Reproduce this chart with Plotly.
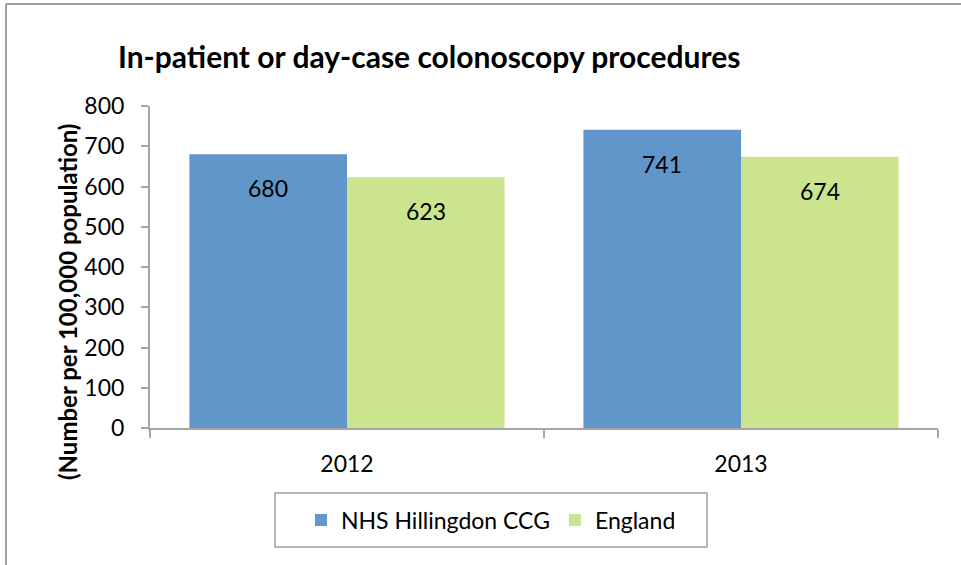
import plotly.graph_objects as go

# Data
years = ["2012", "2013"]
hillingdon = [680, 741]
england = [623, 674]
series_names = ["NHS Hillingdon CCG", "England"]

W, H = 961, 565
# plot area in pixels: x 150..938, y 106..428
PX0, PX1, PY0, PY1 = 150, 938, 106, 428
pw, ph = PX1 - PX0, PY1 - PY0


def px_x(px):
    # pixel -> paper x
    return (px - PX0) / pw


def px_y(py):
    # pixel -> paper y
    return (PY1 - py) / ph


FONT = "Lato"
AXIS_GREY = "#a6a6a6"

fig = go.Figure()

fig.add_trace(go.Bar(
    x=years, y=hillingdon, name=series_names[0],
    marker=dict(color="#6096c9", line=dict(width=0)),
))
fig.add_trace(go.Bar(
    x=years, y=england, name=series_names[1],
    marker=dict(color="#cbe48e", line=dict(width=0)),
))

# value labels just under the top of each bar
for vals, off in [(hillingdon, -0.2), (england, 0.2)]:
    for i, v in enumerate(vals):
        fig.add_annotation(
            x=i + off, y=v, xref="x", yref="y", text=str(v),
            showarrow=False, yshift=-34,
            font=dict(family=FONT, size=23, color="black"),
        )

# y axis title
fig.add_annotation(
    x=px_x(67), y=px_y(302), xref="paper", yref="paper",
    xanchor="center", yanchor="middle",
    text="<b>(Number per 100,000 population)</b>", textangle=-90,
    showarrow=False, font=dict(family=FONT, size=24, color="black"),
)

# outer frame (only top and left edges are inside the picture)
frame = dict(color="#a0a0a0", width=2)
fig.add_shape(type="line", xref="paper", yref="paper",
              x0=px_x(6), x1=px_x(W + 60), y0=px_y(4), y1=px_y(4), line=frame)
fig.add_shape(type="line", xref="paper", yref="paper",
              x0=px_x(6), x1=px_x(6), y0=px_y(4), y1=px_y(H + 60), line=frame)
# legend box
fig.add_shape(type="rect", xref="paper", yref="paper",
              x0=px_x(275), x1=px_x(707), y0=px_y(547), y1=px_y(493),
              line=dict(color="#b8b8b8", width=2))

fig.update_layout(
    width=W, height=H,
    margin=dict(l=PX0, r=W - PX1, t=PY0, b=H - PY1),
    paper_bgcolor="white", plot_bgcolor="white",
    barmode="group", bargap=0.2, bargroupgap=0,
    font=dict(family=FONT, size=23, color="black"),
    title=dict(
        text="<b>In-patient or day-case colonoscopy procedures</b>",
        x=118 / W, xanchor="left", y=1 - 57 / H, yanchor="middle",
        font=dict(family=FONT, size=30, color="black"),
    ),
    showlegend=True,
    legend=dict(
        orientation="h", x=px_x(491), xanchor="center",
        y=px_y(520), yanchor="middle",
        font=dict(family=FONT, size=23, color="black"),
        bgcolor="rgba(0,0,0,0)", borderwidth=0,
    ),
    xaxis=dict(
        type="category", showline=True, linecolor=AXIS_GREY, linewidth=2,
        ticks="outside", tickson="boundaries", ticklen=8,
        tickcolor=AXIS_GREY, tickwidth=2, showgrid=False,
        ticklabelstandoff=14,
    ),
    yaxis=dict(
        range=[0, 800], dtick=100, showline=True, linecolor=AXIS_GREY,
        linewidth=2, ticks="outside", ticklen=7, tickcolor=AXIS_GREY,
        tickwidth=2, showgrid=False, zeroline=False,
        ticklabelstandoff=12,
    ),
)

# drop the default page margin so the figure sits at the window corner
fig.write_html(
    "out.html", config={"displayModeBar": False},
    post_script="document.body.style.margin='0';"
                "document.body.style.overflow='hidden';"
                "document.documentElement.style.overflow='hidden';",
)
